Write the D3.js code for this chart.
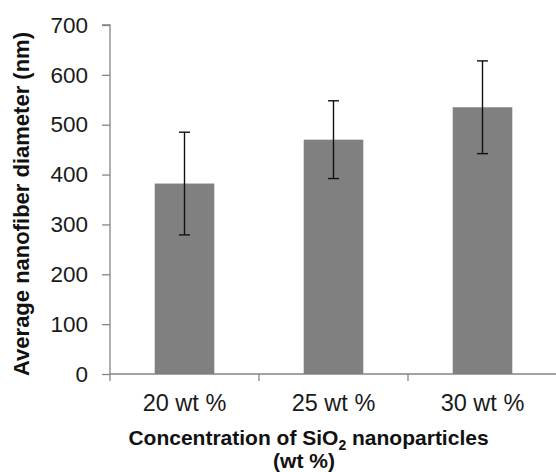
<!DOCTYPE html>
<html>
<head>
<meta charset="utf-8">
<script src="https://cdn.jsdelivr.net/npm/d3@7/dist/d3.min.js"></script>
<style>
  body { margin: 0; background: #fff; }
  svg { display: block; font-family: "Liberation Sans", Arial, sans-serif; }
</style>
</head>
<body>
<div id="chart"></div>
<script>
// data
var categories = ["20 wt %", "25 wt %", "30 wt %"];
var means = [382, 470, 535];
var errors = [103, 78, 93];
var yTicks = [0, 100, 200, 300, 400, 500, 600, 700];

var width = 556, height = 472;
var margin = {top: 25, right: -1, bottom: 98, left: 110};

var svg = d3.select("#chart").append("svg")
    .attr("width", width)
    .attr("height", height);

var x = d3.scaleBand()
    .domain(categories)
    .range([margin.left, width - margin.right])
    .paddingInner(0)
    .paddingOuter(0);

var y = d3.scaleLinear()
    .domain([0, 700])
    .range([height - margin.bottom, margin.top]);

var axisColor = "#858585";

// y axis
var yAxis = d3.axisLeft(y)
    .tickValues(yTicks)
    .tickSize(8)
    .tickPadding(14);

var gy = svg.append("g")
    .attr("transform", "translate(" + margin.left + ",0)")
    .call(yAxis);
gy.select(".domain").attr("stroke", axisColor).attr("stroke-width", 1.3)
    .attr("d", "M-8," + y(700) + "H0V" + (y(0) + 7));
gy.selectAll(".tick line").attr("stroke", axisColor).attr("stroke-width", 1.3);
gy.selectAll(".tick text")
    .attr("fill", "#1a1a1a")
    .style("font-size", "22.5px");

// x axis: baseline, ticks at band boundaries
var gx = svg.append("g");
gx.append("line")
    .attr("x1", margin.left).attr("x2", width)
    .attr("y1", y(0)).attr("y2", y(0))
    .attr("stroke", axisColor).attr("stroke-width", 1.3);
gx.selectAll(".xtick")
    .data(categories.slice(1))
    .enter().append("line")
    .attr("class", "xtick")
    .attr("x1", function(d) { return x(d); })
    .attr("x2", function(d) { return x(d); })
    .attr("y1", y(0)).attr("y2", y(0) + 7)
    .attr("stroke", axisColor).attr("stroke-width", 1.3);
gx.selectAll(".xlabel")
    .data(categories)
    .enter().append("text")
    .attr("class", "xlabel")
    .attr("x", function(d) { return x(d) + x.bandwidth() / 2; })
    .attr("y", y(0) + 37)
    .attr("text-anchor", "middle")
    .attr("fill", "#1a1a1a")
    .style("font-size", "23.5px")
    .text(function(d) { return d; });

// bars
var barW = x.bandwidth() * 0.4;
svg.selectAll(".bar")
    .data(means)
    .enter().append("rect")
    .attr("class", "bar")
    .attr("x", function(d, i) { return x(categories[i]) + (x.bandwidth() - barW) / 2; })
    .attr("y", function(d) { return y(d); })
    .attr("width", barW)
    .attr("height", function(d) { return y(0) - y(d); })
    .attr("fill", "#808080");

// error bars
var capW = 11;
var eb = svg.selectAll(".err")
    .data(means)
    .enter().append("g")
    .attr("class", "err")
    .attr("stroke", "#111")
    .attr("stroke-width", 1.4)
    .attr("transform", function(d, i) {
        return "translate(" + (x(categories[i]) + x.bandwidth() / 2) + ",0)";
    });
eb.append("line")
    .attr("x1", 0).attr("x2", 0)
    .attr("y1", function(d, i) { return y(d + errors[i]); })
    .attr("y2", function(d, i) { return y(d - errors[i]); });
eb.append("line")
    .attr("x1", -capW / 2).attr("x2", capW / 2)
    .attr("y1", function(d, i) { return y(d + errors[i]); })
    .attr("y2", function(d, i) { return y(d + errors[i]); });
eb.append("line")
    .attr("x1", -capW / 2).attr("x2", capW / 2)
    .attr("y1", function(d, i) { return y(d - errors[i]); })
    .attr("y2", function(d, i) { return y(d - errors[i]); });

// y axis title
svg.append("text")
    .attr("transform", "translate(29," + 204 + ") rotate(-90)")
    .attr("text-anchor", "middle")
    .attr("fill", "#111")
    .style("font-size", "22px")
    .style("font-weight", "bold")
    .text("Average nanofiber diameter (nm)");

// x axis title, two lines
var t1 = svg.append("text")
    .attr("x", 308.5)
    .attr("y", 445)
    .attr("text-anchor", "middle")
    .attr("fill", "#111")
    .style("font-size", "21px")
    .style("font-weight", "bold");
t1.append("tspan").text("Concentration of SiO");
t1.append("tspan").attr("dy", 5).style("font-size", "14px").text("2");
t1.append("tspan").attr("dy", -5).text(" nanoparticles");

svg.append("text")
    .attr("x", 304)
    .attr("y", 468)
    .attr("text-anchor", "middle")
    .attr("fill", "#111")
    .style("font-size", "21px")
    .style("font-weight", "bold")
    .text("(wt %)");
</script>
</body>
</html>
